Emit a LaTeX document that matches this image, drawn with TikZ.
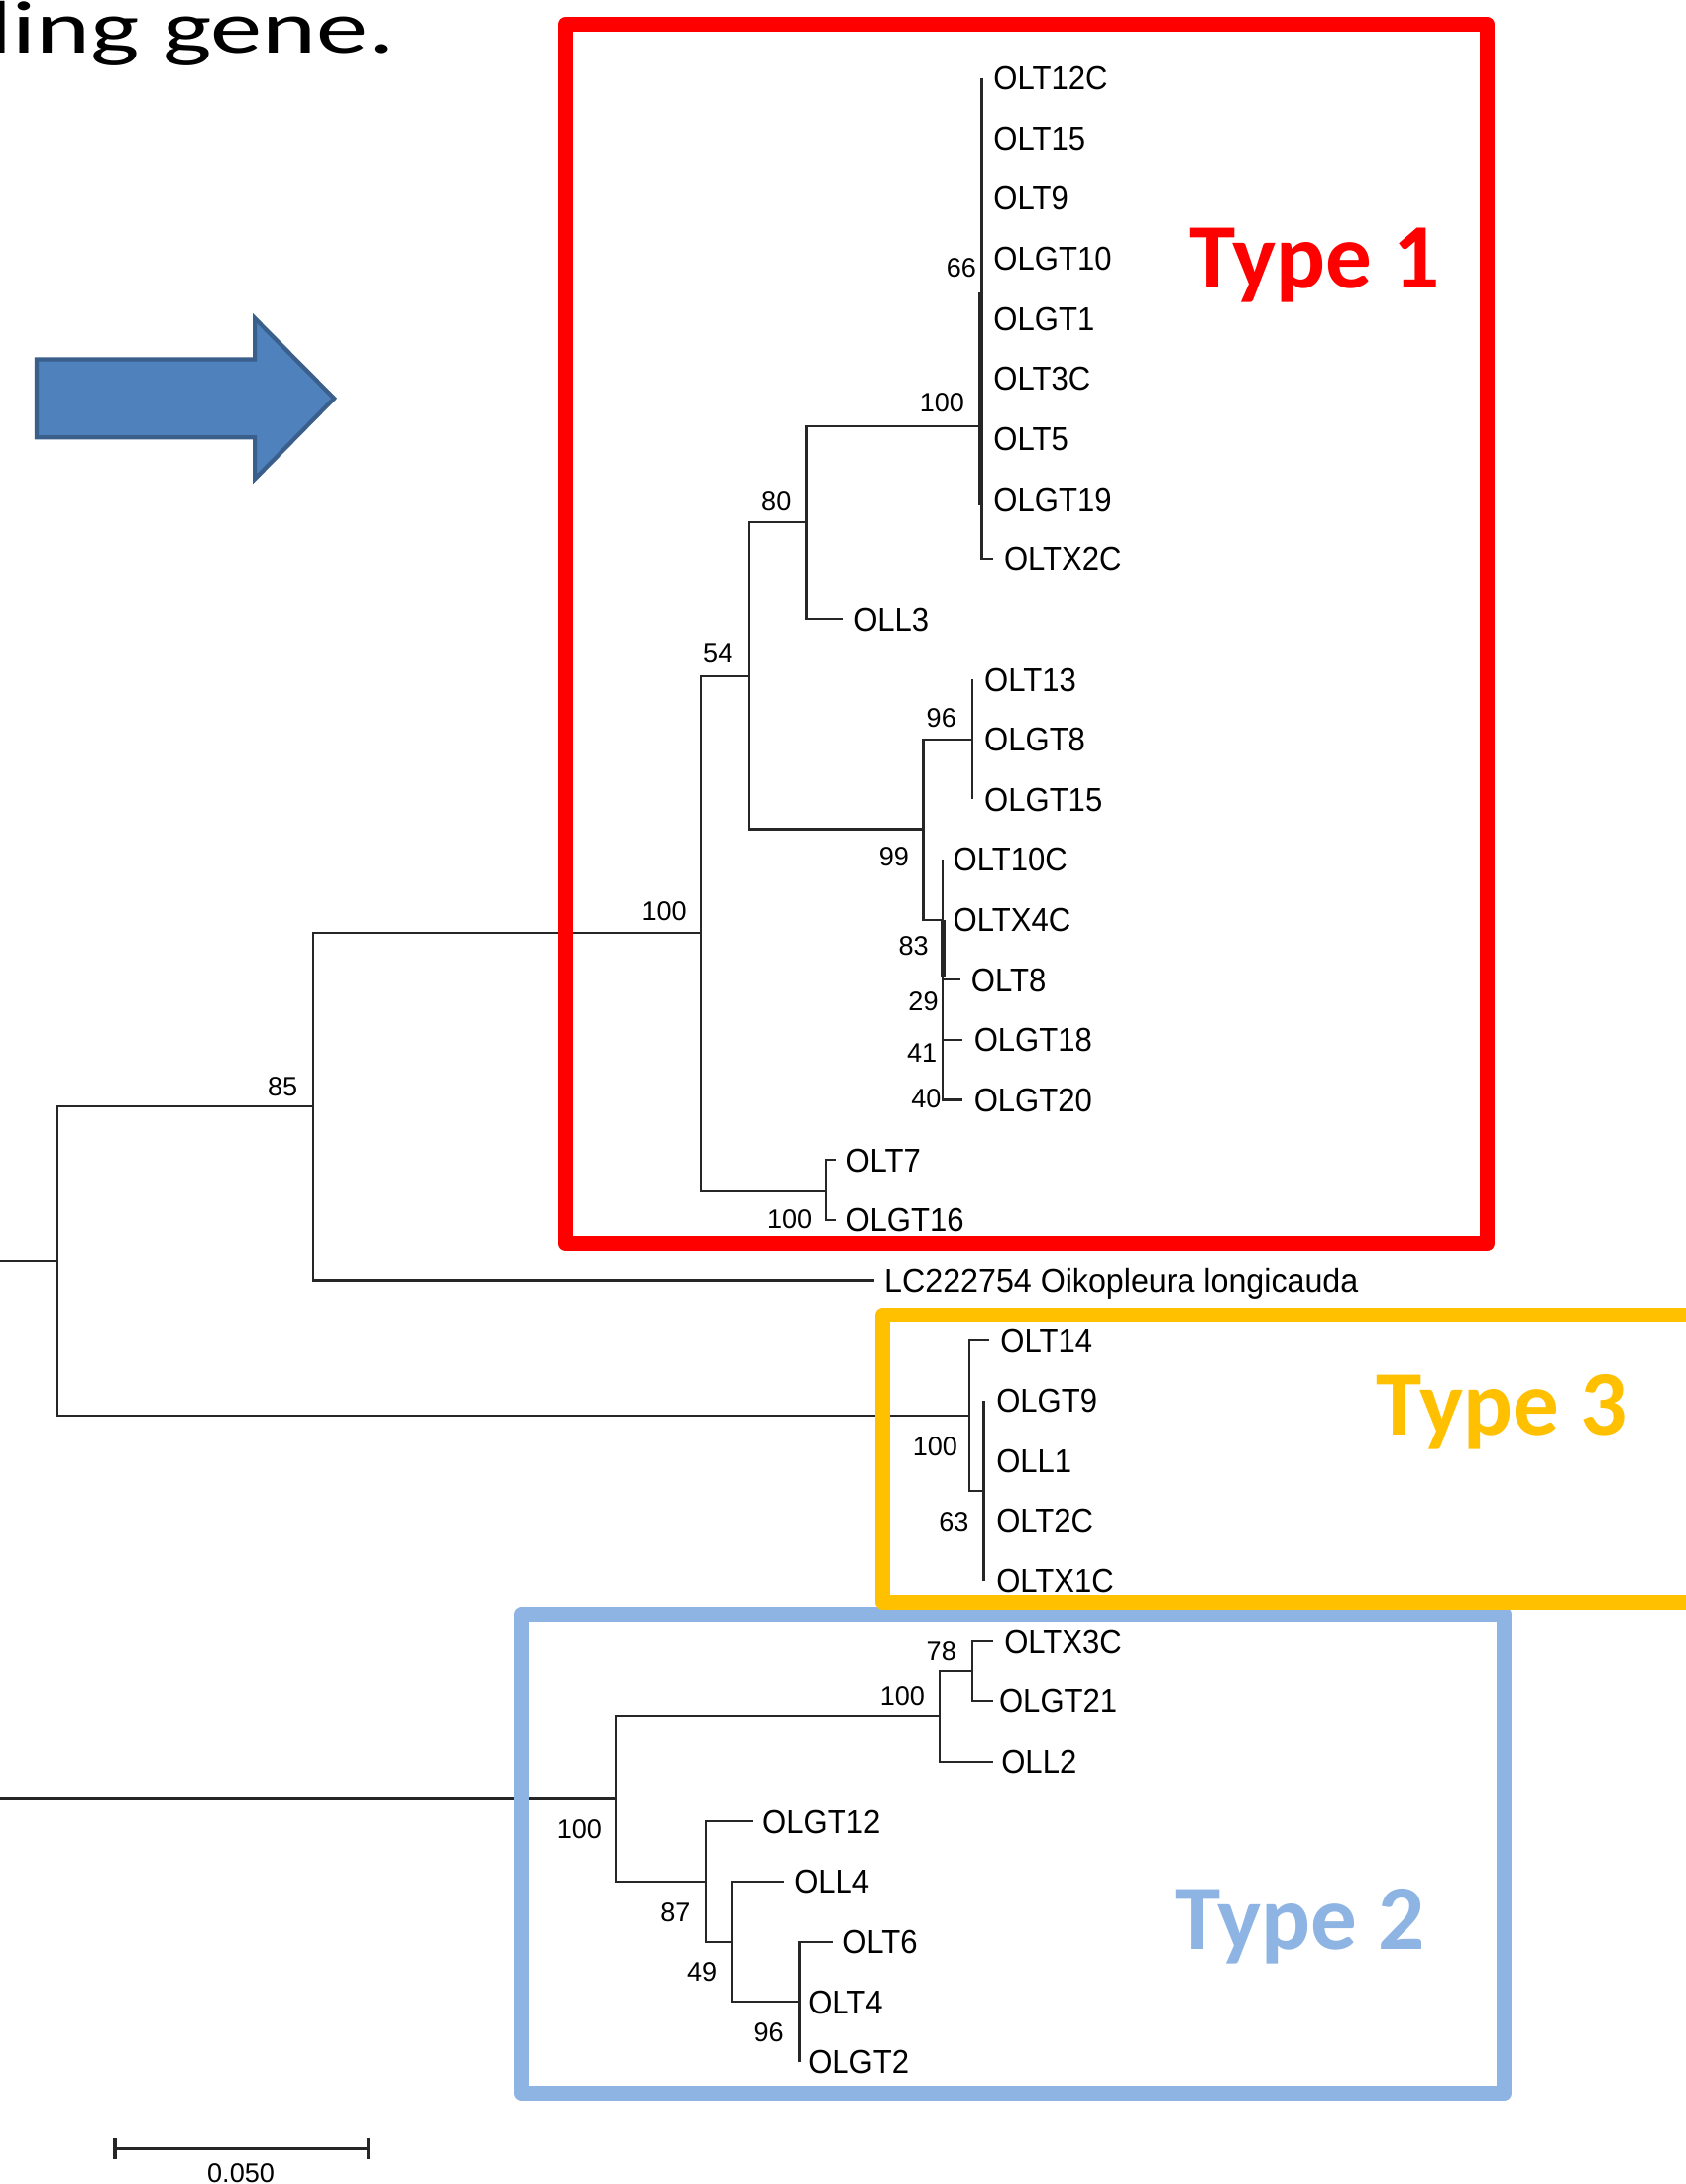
\documentclass[tikz,border=0pt]{standalone}
\usepackage{fontspec}
\setmainfont{Liberation Sans}
\newfontfamily\calib{Carlito}
\definecolor{tyred}{HTML}{FF0000}
\definecolor{tyyel}{HTML}{FFC000}
\definecolor{tyblue}{HTML}{8EB4E3}
\definecolor{arrfill}{HTML}{4F81BD}
\definecolor{arrline}{HTML}{3A5F8B}
\newcommand{\nrw}[1]{\scalebox{0.93}[1]{#1}}
\begin{document}
\begin{tikzpicture}[x=0.1405mm,y=-0.1405mm,
  br/.style={line width=0.6pt,draw=black!85},
  thk/.style={line width=1.4pt,draw=black!85},
  leaf/.style={anchor=west,inner sep=0pt,font=\fontsize{9.5}{10}\selectfont,text height=6.8pt,text depth=0pt},
  bs/.style={inner sep=0pt,font=\fontsize{7.7}{8}\selectfont,text height=5.5pt,text depth=0pt},
  typelbl/.style={anchor=base west,inner sep=0pt,font=\calib\bfseries\fontsize{26.5}{30}\selectfont},
  typebox/.style={line width=4.2pt,line join=round}]
\useasboundingbox (0,0) rectangle (1210,1568);
\fill[white] (0,0) rectangle (1210,1568);

% title (clipped at the page edge, as in the reference)
\node[anchor=base west,inner sep=0pt,font=\calib\fontsize{21.4}{24}\selectfont] (title) at (-8.7,38) {\scalebox{1.39}[1]{ling gene.}};

% block arrow
\draw[fill=arrfill,draw=arrline,line width=1.2pt] (26.4,258) -- (183,258) -- (183,228.5) -- (240,286) -- (183,344) -- (183,314) -- (26.4,314) -- cycle;

% internal nodes
\coordinate (root) at (41,905.5);
\coordinate (n85) at (225,794.6);
\coordinate (n100t1) at (503,670);
\coordinate (n54) at (538,485.4);
\coordinate (n80) at (579,375.2);
\coordinate (nA) at (705,306);
\coordinate (n99) at (663,595.4);
\coordinate (n96) at (698,530.8);
\coordinate (nZ) at (677,660.2);
\coordinate (n7) at (593,854.5);
\coordinate (n100c) at (696,1016.3);
\coordinate (n63) at (706.4,1070.3);
\coordinate (n100a) at (442,1291.5);
\coordinate (n100b) at (675,1232.2);
\coordinate (n78) at (698,1199.8);
\coordinate (n87) at (507,1350.8);
\coordinate (n49) at (526,1394);
\coordinate (n96b) at (574,1437.1);
\coordinate (s1) at (-5,905.5);
\coordinate (s2) at (-5,1291.5);

% tips
\coordinate (tTop) at (705,56);
\coordinate (tOLTX2C) at (713,401.3);
\coordinate (tOLL3) at (605,444.4);
\coordinate (t96a) at (698,487.6);
\coordinate (t96b) at (698,573.9);
\coordinate (tZtop) at (677,617.1);
\coordinate (tOLT8) at (690,703.4);
\coordinate (tOLGT18) at (691,746.6);
\coordinate (tOLGT20) at (691,789.7);
\coordinate (tOLT7) at (600,832.9);
\coordinate (tOLGT16) at (600,876);
\coordinate (tLC) at (628,919.2);
\coordinate (tOLT14) at (710,962.4);
\coordinate (t63a) at (706.4,1005.5);
\coordinate (t63b) at (706.4,1135);
\coordinate (tOLTX3C) at (713,1178.2);
\coordinate (tOLGT21) at (713,1221.3);
\coordinate (tOLL2) at (713,1264.5);
\coordinate (tOLGT12) at (541,1307.6);
\coordinate (tOLL4) at (563,1350.8);
\coordinate (tOLT6) at (598,1394);
\coordinate (t96c) at (574,1480.3);
\coordinate (thA1) at (704,210);
\coordinate (thA2) at (704,362);
\coordinate (thZ1) at (677,660.2);
\coordinate (thZ2) at (677,702);

% branches
\draw[br] (s1) -- (root);
\draw[br] (root) |- (n85);
\draw[br] (root) |- (n100c);
\draw[br] (n85) |- (n100t1);
\draw[br] (n85) |- (tLC);
\draw[br] (n100t1) |- (n54);
\draw[br] (n100t1) |- (n7);
\draw[br] (n54) |- (n80);
\draw[br] (n54) |- (n99);
\draw[br] (n80) |- (nA);
\draw[br] (n80) |- (tOLL3);
\draw[br] (nA) -- (tTop);
\draw[br] (nA) |- (tOLTX2C);
\draw[br] (n99) |- (n96);
\draw[br] (n99) |- (nZ);
\draw[br] (n96) -- (t96a);
\draw[br] (n96) -- (t96b);
\draw[br] (nZ) -- (tZtop);
\draw[br] (nZ) |- (tOLT8);
\draw[br] (nZ) |- (tOLGT18);
\draw[br] (nZ) |- (tOLGT20);
\draw[br] (n7) |- (tOLT7);
\draw[br] (n7) |- (tOLGT16);
\draw[br] (n100c) |- (tOLT14);
\draw[br] (n100c) |- (n63);
\draw[br] (n63) -- (t63a);
\draw[br] (n63) -- (t63b);
\draw[br] (s2) -- (n100a);
\draw[br] (n100a) |- (n100b);
\draw[br] (n100a) |- (n87);
\draw[br] (n100b) |- (n78);
\draw[br] (n100b) |- (tOLL2);
\draw[br] (n78) |- (tOLTX3C);
\draw[br] (n78) |- (tOLGT21);
\draw[br] (n87) |- (tOLGT12);
\draw[br] (n87) |- (n49);
\draw[br] (n49) |- (tOLL4);
\draw[br] (n49) |- (n96b);
\draw[br] (n96b) |- (tOLT6);
\draw[br] (n96b) -- (t96c);
\draw[thk] (thA1) -- (thA2);
\draw[thk] (thZ1) -- (thZ2);

% leaf labels
\node[leaf] (OLT12C) at (713,56) {\nrw{OLT12C}};
\node[leaf] (OLT15) at (713,99.2) {\nrw{OLT15}};
\node[leaf] (OLT9) at (713,142.3) {\nrw{OLT9}};
\node[leaf] (OLGT10) at (713,185.5) {\nrw{OLGT10}};
\node[leaf] (OLGT1) at (713,228.6) {\nrw{OLGT1}};
\node[leaf] (OLT3C) at (713,271.8) {\nrw{OLT3C}};
\node[leaf] (OLT5) at (713,315) {\nrw{OLT5}};
\node[leaf] (OLGT19) at (713,358.1) {\nrw{OLGT19}};
\node[leaf] (OLTX2C) at (720.5,401.3) {\nrw{OLTX2C}};
\node[leaf] (OLL3) at (612.5,444.4) {\nrw{OLL3}};
\node[leaf] (OLT13) at (706.4,487.6) {\nrw{OLT13}};
\node[leaf] (OLGT8) at (706.4,530.8) {\nrw{OLGT8}};
\node[leaf] (OLGT15) at (706.4,573.9) {\nrw{OLGT15}};
\node[leaf] (OLT10C) at (684,617.1) {\nrw{OLT10C}};
\node[leaf] (OLTX4C) at (684,660.2) {\nrw{OLTX4C}};
\node[leaf] (OLT8) at (697,703.4) {\nrw{OLT8}};
\node[leaf] (OLGT18) at (699,746.6) {\nrw{OLGT18}};
\node[leaf] (OLGT20) at (699,789.7) {\nrw{OLGT20}};
\node[leaf] (OLT7) at (607,832.9) {\nrw{OLT7}};
\node[leaf] (OLGT16) at (607,876) {\nrw{OLGT16}};
\node[leaf] (LC) at (634.5,919.2) {\scalebox{0.965}[1]{LC222754 Oikopleura longicauda}};
\node[leaf] (OLT14) at (718,962.4) {\nrw{OLT14}};
\node[leaf] (OLGT9) at (715,1005.5) {\nrw{OLGT9}};
\node[leaf] (OLL1) at (715,1048.7) {\nrw{OLL1}};
\node[leaf] (OLT2C) at (715,1091.8) {\nrw{OLT2C}};
\node[leaf] (OLTX1C) at (715,1135) {\nrw{OLTX1C}};
\node[leaf] (OLTX3C) at (720.7,1178.2) {\nrw{OLTX3C}};
\node[leaf] (OLGT21) at (717,1221.3) {\nrw{OLGT21}};
\node[leaf] (OLL2) at (718.6,1264.5) {\nrw{OLL2}};
\node[leaf] (OLGT12) at (547,1307.6) {\nrw{OLGT12}};
\node[leaf] (OLL4) at (569.8,1350.8) {\nrw{OLL4}};
\node[leaf] (OLT6) at (604.7,1394) {\nrw{OLT6}};
\node[leaf] (OLT4) at (579.8,1437.1) {\nrw{OLT4}};
\node[leaf] (OLGT2) at (579.8,1480.3) {\nrw{OLGT2}};

% bootstrap values
\node[bs] (b66) at (690.3,192) {66};
\node[bs] (b100A) at (676.5,289) {100};
\node[bs] (b80) at (557.5,359) {80};
\node[bs] (b54) at (515.5,469) {54};
\node[bs] (b96) at (676,515) {96};
\node[bs] (b99) at (642,615) {99};
\node[bs] (b83) at (656,679) {83};
\node[bs] (b29) at (663,719) {29};
\node[bs] (b41) at (662,756) {41};
\node[bs] (b40) at (665,788.6) {40};
\node[bs] (b100t1) at (477,654) {100};
\node[bs] (b100g) at (567,875.5) {100};
\node[bs] (b85) at (203,780) {85};
\node[bs] (b100t3) at (671.5,1038) {100};
\node[bs] (b63) at (685,1092.5) {63};
\node[bs] (b78) at (676,1185) {78};
\node[bs] (b100b) at (648,1218) {100};
\node[bs] (b100a) at (416,1313) {100};
\node[bs] (b87) at (485,1372.6) {87};
\node[bs] (b49) at (504,1415.8) {49};
\node[bs] (b96b) at (552,1459) {96};

% scale bar
\coordinate (sbL) at (82.6,1543);
\coordinate (sbR) at (264.6,1543);
\coordinate (sbL1) at (82.6,1535.5);
\coordinate (sbL2) at (82.6,1550.5);
\coordinate (sbR1) at (264.6,1535.5);
\coordinate (sbR2) at (264.6,1550.5);
\draw[line width=0.9pt,black!85] (sbL) -- (sbR);
\draw[line width=0.9pt,black!85] (sbL1) -- (sbL2);
\draw[line width=0.9pt,black!85] (sbR1) -- (sbR2);
\node[bs,anchor=north] (sblabel) at (173,1553) {0.050};

% type boxes
\draw[typebox,draw=tyred] (406,17.5) rectangle (1068,893);
\draw[typebox,draw=tyblue] (375,1159) rectangle (1080,1503);
\draw[typebox,draw=tyyel] (634,944) rectangle (1240,1150.7);

\node[typelbl,text=tyred] (type1) at (854,207) {Type 1};
\node[typelbl,text=tyyel] (type3) at (988,1030) {Type 3};
\node[typelbl,text=tyblue] (type2) at (843,1400) {Type 2};
\end{tikzpicture}
\end{document}
